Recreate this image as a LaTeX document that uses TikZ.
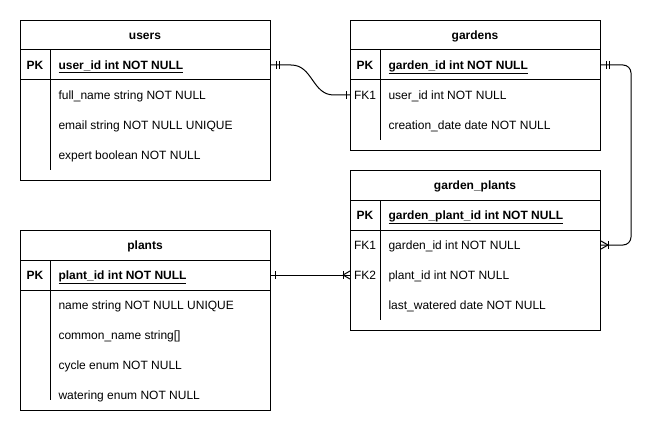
\documentclass[tikz,border=0pt]{standalone}
\usepackage{fontspec}
\setmainfont{Liberation Sans}
\usetikzlibrary{calc}
\newcommand\erbar[2]{\draw ($(#1)+(#2,-4)$) -- ($(#1)+(#2,4)$);}
\newcommand\erfoot[2]{\draw ($(#1)+(#2,0)$) -- ($(#1)+(0,-4)$) ($(#1)+(#2,0)$) -- ($(#1)+(0,4)$);}
\begin{document}
\begin{tikzpicture}[x=1pt,y=-1pt,line width=1pt,
  every node/.style={font=\fontsize{12}{14}\selectfont, inner sep=0pt, text height=8.6pt, text depth=0pt},
  tbl/.style={draw, line width=1pt, minimum width=250pt, anchor=north west, text height=, text depth=},
  ttl/.style={font=\fontsize{12}{14}\selectfont\bfseries},
  keyb/.style={font=\fontsize{12}{14}\selectfont\bfseries},
  keyr/.style={},
  fld/.style={anchor=west},
  fldb/.style={anchor=west, font=\fontsize{12}{14}\selectfont\bfseries},
  sep/.style={line width=1pt}]
\fill[white] (0,0) rectangle (660,441);
\useasboundingbox (0,0) rectangle (660,441);

% users
\node[tbl, minimum height=160pt] (users) at (20,20) {};
\draw[sep] (20,50) -- (270,50) (20,80) -- (270,80) (50,50) -- (50,170);
\node[ttl] (usersT) at (145,35) {users};
\node[keyb] (usersPK) at (35,65) {PK};
\node[fldb] (uid) at (58,65) {\underline{user\_id int NOT NULL}};
\node[fld] (ufn) at (58,95) {full\_name string NOT NULL};
\node[fld] (uem) at (58,125) {email string NOT NULL UNIQUE};
\node[fld] (uex) at (58,155) {expert boolean NOT NULL};

% gardens
\node[tbl, minimum height=130pt] (gardens) at (350,20) {};
\draw[sep] (350,50) -- (600,50) (350,80) -- (600,80) (380,50) -- (380,140);
\node[ttl] (gardensT) at (475,35) {gardens};
\node[keyb] (gardensPK) at (365,65) {PK};
\node[fldb] (gid) at (388,65) {\underline{garden\_id int NOT NULL}};
\node[keyr] (gardensFK) at (365,95) {FK1};
\node[fld] (guid) at (388,95) {user\_id int NOT NULL};
\node[fld] (gcd) at (388,125) {creation\_date date NOT NULL};

% garden_plants
\node[tbl, minimum height=160pt] (gp) at (350,170) {};
\draw[sep] (350,200) -- (600,200) (350,230) -- (600,230) (380,200) -- (380,320);
\node[ttl] (gpT) at (475,185) {garden\_plants};
\node[keyb] (gpPK) at (365,215) {PK};
\node[fldb] (gpid) at (388,215) {\underline{garden\_plant\_id int NOT NULL}};
\node[keyr] (gpFK1) at (365,245) {FK1};
\node[fld] (gpgid) at (388,245) {garden\_id int NOT NULL};
\node[keyr] (gpFK2) at (365,275) {FK2};
\node[fld] (gppid) at (388,275) {plant\_id int NOT NULL};
\node[fld] (gplw) at (388,305) {last\_watered date NOT NULL};

% plants
\node[tbl, minimum height=180pt] (plants) at (20,230) {};
\draw[sep] (20,260) -- (270,260) (20,290) -- (270,290) (50,260) -- (50,400);
\node[ttl] (plantsT) at (145,245) {plants};
\node[keyb] (plantsPK) at (35,275) {PK};
\node[fldb] (pid) at (58,275) {\underline{plant\_id int NOT NULL}};
\node[fld] (pname) at (58,305) {name string NOT NULL UNIQUE};
\node[fld] (pcn) at (58,335) {common\_name string[]};
\node[fld] (pcy) at (58,365) {cycle enum NOT NULL};
\node[fld] (pwa) at (58,395) {watering enum NOT NULL};

% connector users -> gardens
\coordinate (c1s) at (users.east |- uid.center);
\coordinate (c1e) at (gardens.west |- guid.center);
\draw (c1s) -- ($(c1s)+(20,0)$) .. controls ($(c1s)+(42,0)$) and ($(c1e)+(-38,0)$) .. ($(c1e)+(-16,0)$) -- (c1e);
\erbar{c1s}{5}
\erbar{c1s}{8}
\erbar{c1e}{-4}

% connector gardens -> garden_plants
\coordinate (c2s) at (gardens.east |- gid.center);
\coordinate (c2e) at (gp.east |- gpgid.center);
\draw[rounded corners=8pt] (c2s) -- ($(c2s)+(30,0)$) -- ($(c2e)+(30,0)$) -- (c2e);
\erbar{c2s}{5}
\erbar{c2s}{8}
\erfoot{c2e}{7}
\erbar{c2e}{7}

% connector plants -> garden_plants
\coordinate (c3s) at (plants.east |- pid.center);
\coordinate (c3e) at (gp.west |- gppid.center);
\draw (c3s) -- (c3e);
\erbar{c3s}{4}
\erfoot{c3e}{-7}
\erbar{c3e}{-7}
\end{tikzpicture}
\end{document}
